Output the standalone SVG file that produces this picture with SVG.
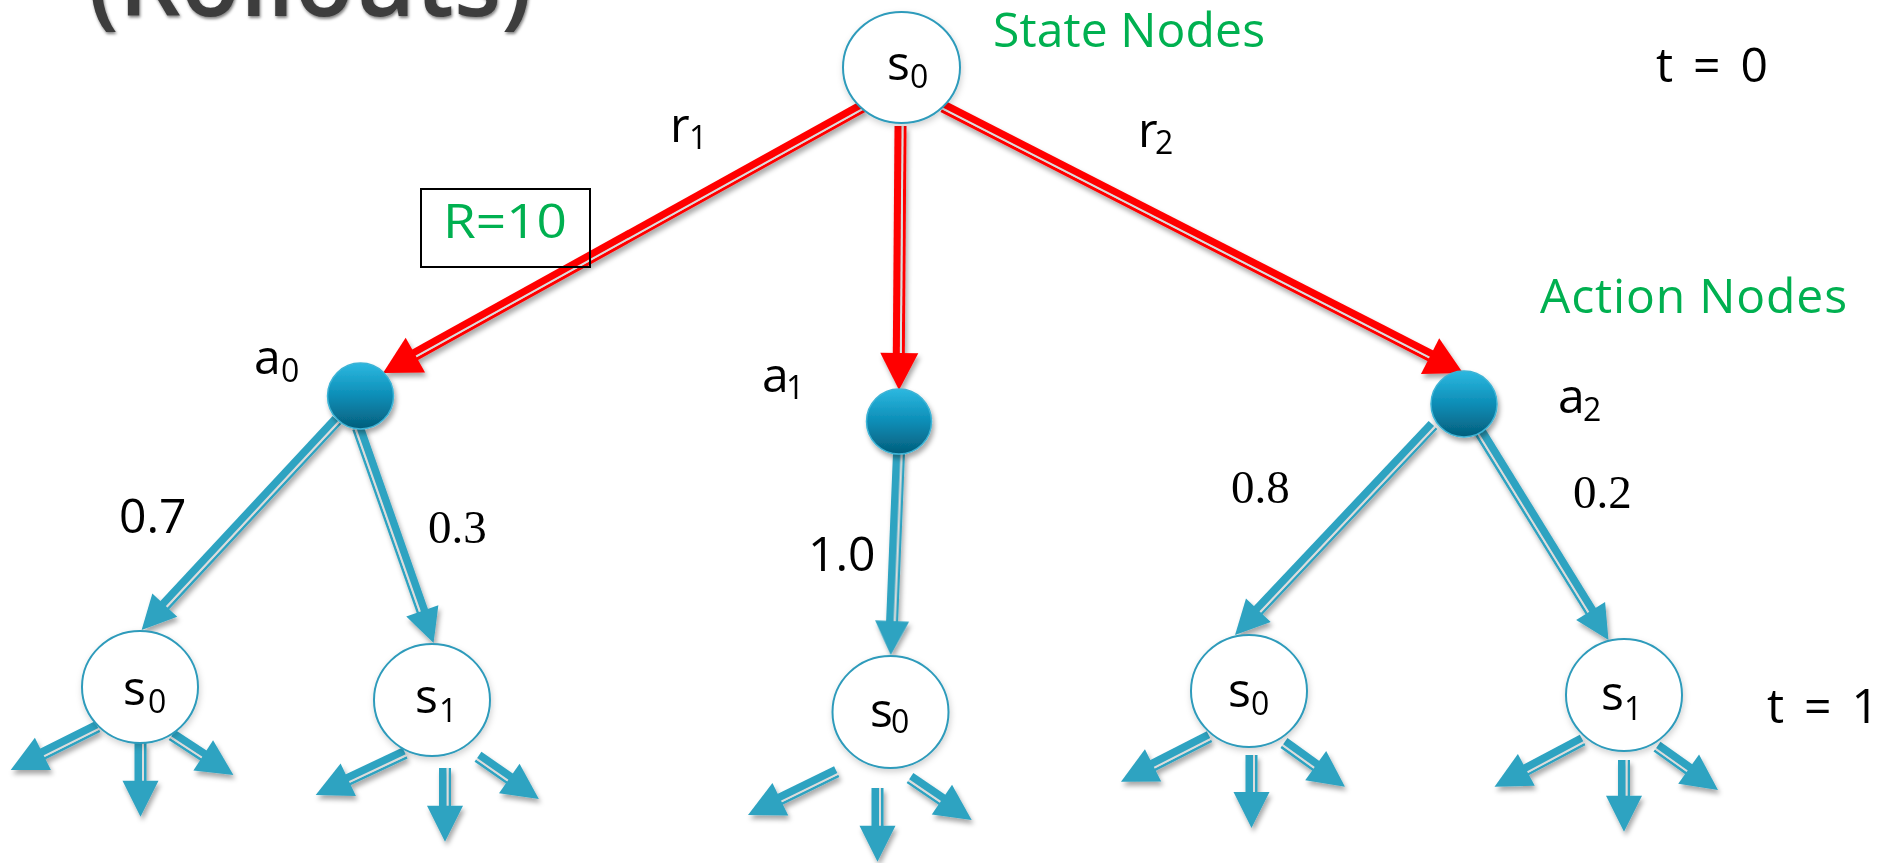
<svg xmlns="http://www.w3.org/2000/svg" width="1880" height="863" viewBox="0 0 1880 863">
  <style>
    .lbl { font-family: "Open Sans", "Liberation Sans", sans-serif; fill: #000; }
    .big { font-size: 48px; }
    .sub { font-size: 32px; }
    .serif { font-family: "Liberation Serif", serif; font-size: 47px; fill: #000; }
    .green { font-family: "Open Sans", "Liberation Sans", sans-serif; font-size: 48px; fill: #00B050; }
    .state { fill: #fff; stroke: #2E9BBB; stroke-width: 2; }
    .action { fill: url(#ballGrad); stroke: #3DB3D5; stroke-width: 1.5; }
    .red .k, .red .n, .red .h { fill: #FF0000; }
    .blue .k, .blue .n, .blue .h { fill: #2EA3C1; }
    .g { fill: #DCDCDC; }
  </style>
  <defs>
    <linearGradient id="ballGrad" x1="0" y1="0" x2="0" y2="1">
      <stop offset="0" stop-color="#2CB8E0"/>
      <stop offset="0.5" stop-color="#0C8DB6"/>
      <stop offset="1" stop-color="#045E7C"/>
    </linearGradient>
    <filter id="shadow" x="-10%" y="-10%" width="130%" height="130%">
      <feDropShadow dx="2" dy="4" stdDeviation="2.5" flood-color="#000" flood-opacity="0.35"/>
    </filter>
    <filter id="softShadow" x="-20%" y="-20%" width="150%" height="150%">
      <feDropShadow dx="1" dy="3" stdDeviation="3" flood-color="#000" flood-opacity="0.18"/>
    </filter>
    <filter id="titleShadow" x="-5%" y="-50%" width="110%" height="200%">
      <feDropShadow dx="1" dy="2" stdDeviation="1.5" flood-color="#000" flood-opacity="0.5"/>
    </filter>
  </defs>

  <!-- slide title, top part runs off the canvas -->
  <text x="88" y="16" font-family="Open Sans, Liberation Sans, sans-serif" font-size="100" font-weight="600" fill="#3E3E3E" textLength="444" lengthAdjust="spacingAndGlyphs" filter="url(#titleShadow)">(Rollouts)</text>

  <!-- connectors: compound (thick / gap / thin) shafts with triangular heads -->
  <g id="connectors" filter="url(#shadow)">
    <!-- reward edges from the root -->
    <g class="red" transform="translate(863 107) rotate(151.0)">
      <rect class="n" x="0" y="-5.5" width="513.8" height="3"/>
      <rect class="g" x="0" y="-2.5" width="513.8" height="2"/>
      <rect class="k" x="0" y="-0.5" width="513.8" height="7"/>
      <polygon class="h" points="511.8,-20 548.8,0 511.8,20"/>
    </g>
    <g class="red" transform="translate(901 126) rotate(90.43)">
      <rect class="n" x="0" y="-5.5" width="229" height="3"/>
      <rect class="g" x="0" y="-2.5" width="229" height="2"/>
      <rect class="k" x="0" y="-0.5" width="229" height="7"/>
      <polygon class="h" points="227,-19 264,0 227,19"/>
    </g>
    <g class="red" transform="translate(943 107) rotate(27.09) scale(1 -1)">
      <rect class="n" x="0" y="-5.5" width="549.1" height="3"/>
      <rect class="g" x="0" y="-2.5" width="549.1" height="2"/>
      <rect class="k" x="0" y="-0.5" width="549.1" height="7"/>
      <polygon class="h" points="547.1,-20 584.1,0 547.1,20"/>
    </g>

    <!-- transition edges from the action nodes -->
    <g class="blue" transform="translate(337 420) rotate(132.94)">
      <rect class="n" x="0" y="-6" width="253.8" height="2.5"/>
      <rect class="g" x="0" y="-3.5" width="253.8" height="2"/>
      <rect class="k" x="0" y="-1.5" width="253.8" height="7.5"/>
      <polygon class="h" points="252.8,-17 286.8,0 252.8,17"/>
    </g>
    <g class="blue" transform="translate(358 428) rotate(70.63) scale(1 -1)">
      <rect class="n" x="0" y="-6" width="194.9" height="2.5"/>
      <rect class="g" x="0" y="-3.5" width="194.9" height="2"/>
      <rect class="k" x="0" y="-1.5" width="194.9" height="7.5"/>
      <polygon class="h" points="193.9,-17 227.9,0 193.9,17"/>
    </g>
    <g class="blue" transform="translate(899 453) rotate(92.35)">
      <rect class="n" x="0" y="-6" width="169.2" height="2.5"/>
      <rect class="g" x="0" y="-3.5" width="169.2" height="2"/>
      <rect class="k" x="0" y="-1.5" width="169.2" height="7.5"/>
      <polygon class="h" points="168.2,-17 202.2,0 168.2,17"/>
    </g>
    <g class="blue" transform="translate(1433 425) rotate(133.31)">
      <rect class="n" x="0" y="-6" width="255.6" height="2.5"/>
      <rect class="g" x="0" y="-3.5" width="255.6" height="2"/>
      <rect class="k" x="0" y="-1.5" width="255.6" height="7.5"/>
      <polygon class="h" points="254.6,-17 288.6,0 254.6,17"/>
    </g>
    <g class="blue" transform="translate(1477 427) rotate(58.31) scale(1 -1)">
      <rect class="n" x="0" y="-6" width="217.3" height="2.5"/>
      <rect class="g" x="0" y="-3.5" width="217.3" height="2"/>
      <rect class="k" x="0" y="-1.5" width="217.3" height="7.5"/>
      <polygon class="h" points="216.3,-17 250.3,0 216.3,17"/>
    </g>

    <!-- outgoing stubs below the t=1 state nodes -->
    <g class="blue" transform="translate(97.6 726.7) rotate(153.5)">
      <rect class="n" x="0" y="-6" width="62.1" height="2.5"/><rect class="g" x="0" y="-3.5" width="62.1" height="2"/><rect class="k" x="0" y="-1.5" width="62.1" height="7.5"/>
      <polygon class="h" points="61.1,-18 97.1,0 61.1,18"/>
    </g>
    <g class="blue" transform="translate(140.5 743) rotate(90)">
      <rect class="n" x="0" y="-6" width="38.7" height="2.5"/><rect class="g" x="0" y="-3.5" width="38.7" height="2"/><rect class="k" x="0" y="-1.5" width="38.7" height="7.5"/>
      <polygon class="h" points="37.7,-18 73.7,0 37.7,18"/>
    </g>
    <g class="blue" transform="translate(172 735) rotate(33.1) scale(1 -1)">
      <rect class="n" x="0" y="-6" width="38.3" height="2.5"/><rect class="g" x="0" y="-3.5" width="38.3" height="2"/><rect class="k" x="0" y="-1.5" width="38.3" height="7.5"/>
      <polygon class="h" points="37.3,-18 73.3,0 37.3,18"/>
    </g>

    <g class="blue" transform="translate(405 753) rotate(154.8)">
      <rect class="n" x="0" y="-6" width="63.7" height="2.5"/><rect class="g" x="0" y="-3.5" width="63.7" height="2"/><rect class="k" x="0" y="-1.5" width="63.7" height="7.5"/>
      <polygon class="h" points="62.7,-18 98.7,0 62.7,18"/>
    </g>
    <g class="blue" transform="translate(445 768) rotate(90)">
      <rect class="n" x="0" y="-6" width="38.7" height="2.5"/><rect class="g" x="0" y="-3.5" width="38.7" height="2"/><rect class="k" x="0" y="-1.5" width="38.7" height="7.5"/>
      <polygon class="h" points="37.7,-18 73.7,0 37.7,18"/>
    </g>
    <g class="blue" transform="translate(478 756.7) rotate(34.8) scale(1 -1)">
      <rect class="n" x="0" y="-6" width="39.1" height="2.5"/><rect class="g" x="0" y="-3.5" width="39.1" height="2"/><rect class="k" x="0" y="-1.5" width="39.1" height="7.5"/>
      <polygon class="h" points="38.1,-18 74.1,0 38.1,18"/>
    </g>

    <g class="blue" transform="translate(836.7 771.7) rotate(153.98)">
      <rect class="n" x="0" y="-6" width="63.7" height="2.5"/><rect class="g" x="0" y="-3.5" width="63.7" height="2"/><rect class="k" x="0" y="-1.5" width="63.7" height="7.5"/>
      <polygon class="h" points="62.7,-18 98.7,0 62.7,18"/>
    </g>
    <g class="blue" transform="translate(877.5 788) rotate(90)">
      <rect class="n" x="0" y="-6" width="38.7" height="2.5"/><rect class="g" x="0" y="-3.5" width="38.7" height="2"/><rect class="k" x="0" y="-1.5" width="38.7" height="7.5"/>
      <polygon class="h" points="37.7,-18 73.7,0 37.7,18"/>
    </g>
    <g class="blue" transform="translate(910 778) rotate(34.24) scale(1 -1)">
      <rect class="n" x="0" y="-6" width="39.6" height="2.5"/><rect class="g" x="0" y="-3.5" width="39.6" height="2"/><rect class="k" x="0" y="-1.5" width="39.6" height="7.5"/>
      <polygon class="h" points="38.6,-18 74.6,0 38.6,18"/>
    </g>

    <g class="blue" transform="translate(1209.5 736.7) rotate(153.05)">
      <rect class="n" x="0" y="-6" width="64.3" height="2.5"/><rect class="g" x="0" y="-3.5" width="64.3" height="2"/><rect class="k" x="0" y="-1.5" width="64.3" height="7.5"/>
      <polygon class="h" points="63.3,-18 99.3,0 63.3,18"/>
    </g>
    <g class="blue" transform="translate(1251.5 755) rotate(90)">
      <rect class="n" x="0" y="-6" width="38" height="2.5"/><rect class="g" x="0" y="-3.5" width="38" height="2"/><rect class="k" x="0" y="-1.5" width="38" height="7.5"/>
      <polygon class="h" points="37,-18 73,0 37,18"/>
    </g>
    <g class="blue" transform="translate(1284 743) rotate(35.6) scale(1 -1)">
      <rect class="n" x="0" y="-6" width="40" height="2.5"/><rect class="g" x="0" y="-3.5" width="40" height="2"/><rect class="k" x="0" y="-1.5" width="40" height="7.5"/>
      <polygon class="h" points="39,-18 75,0 39,18"/>
    </g>

    <g class="blue" transform="translate(1582.6 740) rotate(152.07)">
      <rect class="n" x="0" y="-6" width="64.7" height="2.5"/><rect class="g" x="0" y="-3.5" width="64.7" height="2"/><rect class="k" x="0" y="-1.5" width="64.7" height="7.5"/>
      <polygon class="h" points="63.7,-18 99.7,0 63.7,18"/>
    </g>
    <g class="blue" transform="translate(1624 760) rotate(90)">
      <rect class="n" x="0" y="-6" width="36.7" height="2.5"/><rect class="g" x="0" y="-3.5" width="36.7" height="2"/><rect class="k" x="0" y="-1.5" width="36.7" height="7.5"/>
      <polygon class="h" points="35.7,-18 71.7,0 35.7,18"/>
    </g>
    <g class="blue" transform="translate(1657 746.7) rotate(35.37) scale(1 -1)">
      <rect class="n" x="0" y="-6" width="39.8" height="2.5"/><rect class="g" x="0" y="-3.5" width="39.8" height="2"/><rect class="k" x="0" y="-1.5" width="39.8" height="7.5"/>
      <polygon class="h" points="38.8,-18 74.8,0 38.8,18"/>
    </g>
  </g>

  <!-- state nodes -->
  <g id="s0-root" filter="url(#softShadow)">
    <ellipse class="state" cx="901.5" cy="67.5" rx="58.5" ry="55.5"/>
    <text class="lbl big" x="887" y="80">s</text><text class="lbl sub" x="910" y="88">0</text>
  </g>
  <g id="s0-a0" filter="url(#softShadow)">
    <ellipse class="state" cx="140" cy="687" rx="58" ry="56"/>
    <text class="lbl big" x="123" y="705">s</text><text class="lbl sub" x="148" y="713">0</text>
  </g>
  <g id="s1-a0" filter="url(#softShadow)">
    <ellipse class="state" cx="432" cy="700" rx="58" ry="56"/>
    <text class="lbl big" x="415" y="713">s</text><text class="lbl sub" x="439" y="722">1</text>
  </g>
  <g id="s0-a1" filter="url(#softShadow)">
    <ellipse class="state" cx="890.5" cy="712" rx="58" ry="56"/>
    <text class="lbl big" x="870" y="727">s</text><text class="lbl sub" x="891" y="733">0</text>
  </g>
  <g id="s0-a2" filter="url(#softShadow)">
    <ellipse class="state" cx="1249" cy="691" rx="58" ry="56"/>
    <text class="lbl big" x="1228" y="707">s</text><text class="lbl sub" x="1251" y="715">0</text>
  </g>
  <g id="s1-a2" filter="url(#softShadow)">
    <ellipse class="state" cx="1624" cy="695" rx="58" ry="56"/>
    <text class="lbl big" x="1601" y="710">s</text><text class="lbl sub" x="1624" y="720">1</text>
  </g>

  <!-- action nodes -->
  <g id="a0">
    <circle class="action" cx="360.5" cy="396" r="33" filter="url(#shadow)"/>
    <text class="lbl big" x="254" y="374">a</text><text class="lbl sub" x="281" y="382">0</text>
  </g>
  <g id="a1">
    <circle class="action" cx="899" cy="421.5" r="32.5" filter="url(#shadow)"/>
    <text class="lbl big" x="762" y="392">a</text><text class="lbl sub" x="786" y="399">1</text>
  </g>
  <g id="a2">
    <circle class="action" cx="1464" cy="404" r="33" filter="url(#shadow)"/>
    <text class="lbl big" x="1558" y="413">a</text><text class="lbl sub" x="1583" y="421">2</text>
  </g>

  <!-- edge labels -->
  <g id="edge-labels">
    <text class="lbl big" x="670" y="142">r</text><text class="lbl sub" x="689" y="149">1</text>
    <text class="lbl big" x="1138" y="147">r</text><text class="lbl sub" x="1155" y="154">2</text>
    <text class="lbl big" x="119" y="533">0.7</text>
    <text class="serif" x="428" y="543">0.3</text>
    <text class="lbl big" x="808" y="571">1.0</text>
    <text class="serif" x="1231" y="503">0.8</text>
    <text class="serif" x="1573" y="508">0.2</text>
  </g>

  <!-- reward box -->
  <g id="reward">
    <rect x="421" y="189" width="169" height="78" fill="none" stroke="#000" stroke-width="2"/>
    <text class="green" x="443" y="238" textLength="124" lengthAdjust="spacingAndGlyphs">R=10</text>
  </g>

  <!-- legend and time steps -->
  <g id="legend">
    <text class="green" x="993" y="47" textLength="272">State Nodes</text>
    <text class="green" x="1540" y="313" textLength="307">Action Nodes</text>
    <text class="lbl big" x="1656" y="82" textLength="112">t = 0</text>
    <text class="lbl big" x="1767" y="723" textLength="112">t = 1</text>
  </g>
</svg>
